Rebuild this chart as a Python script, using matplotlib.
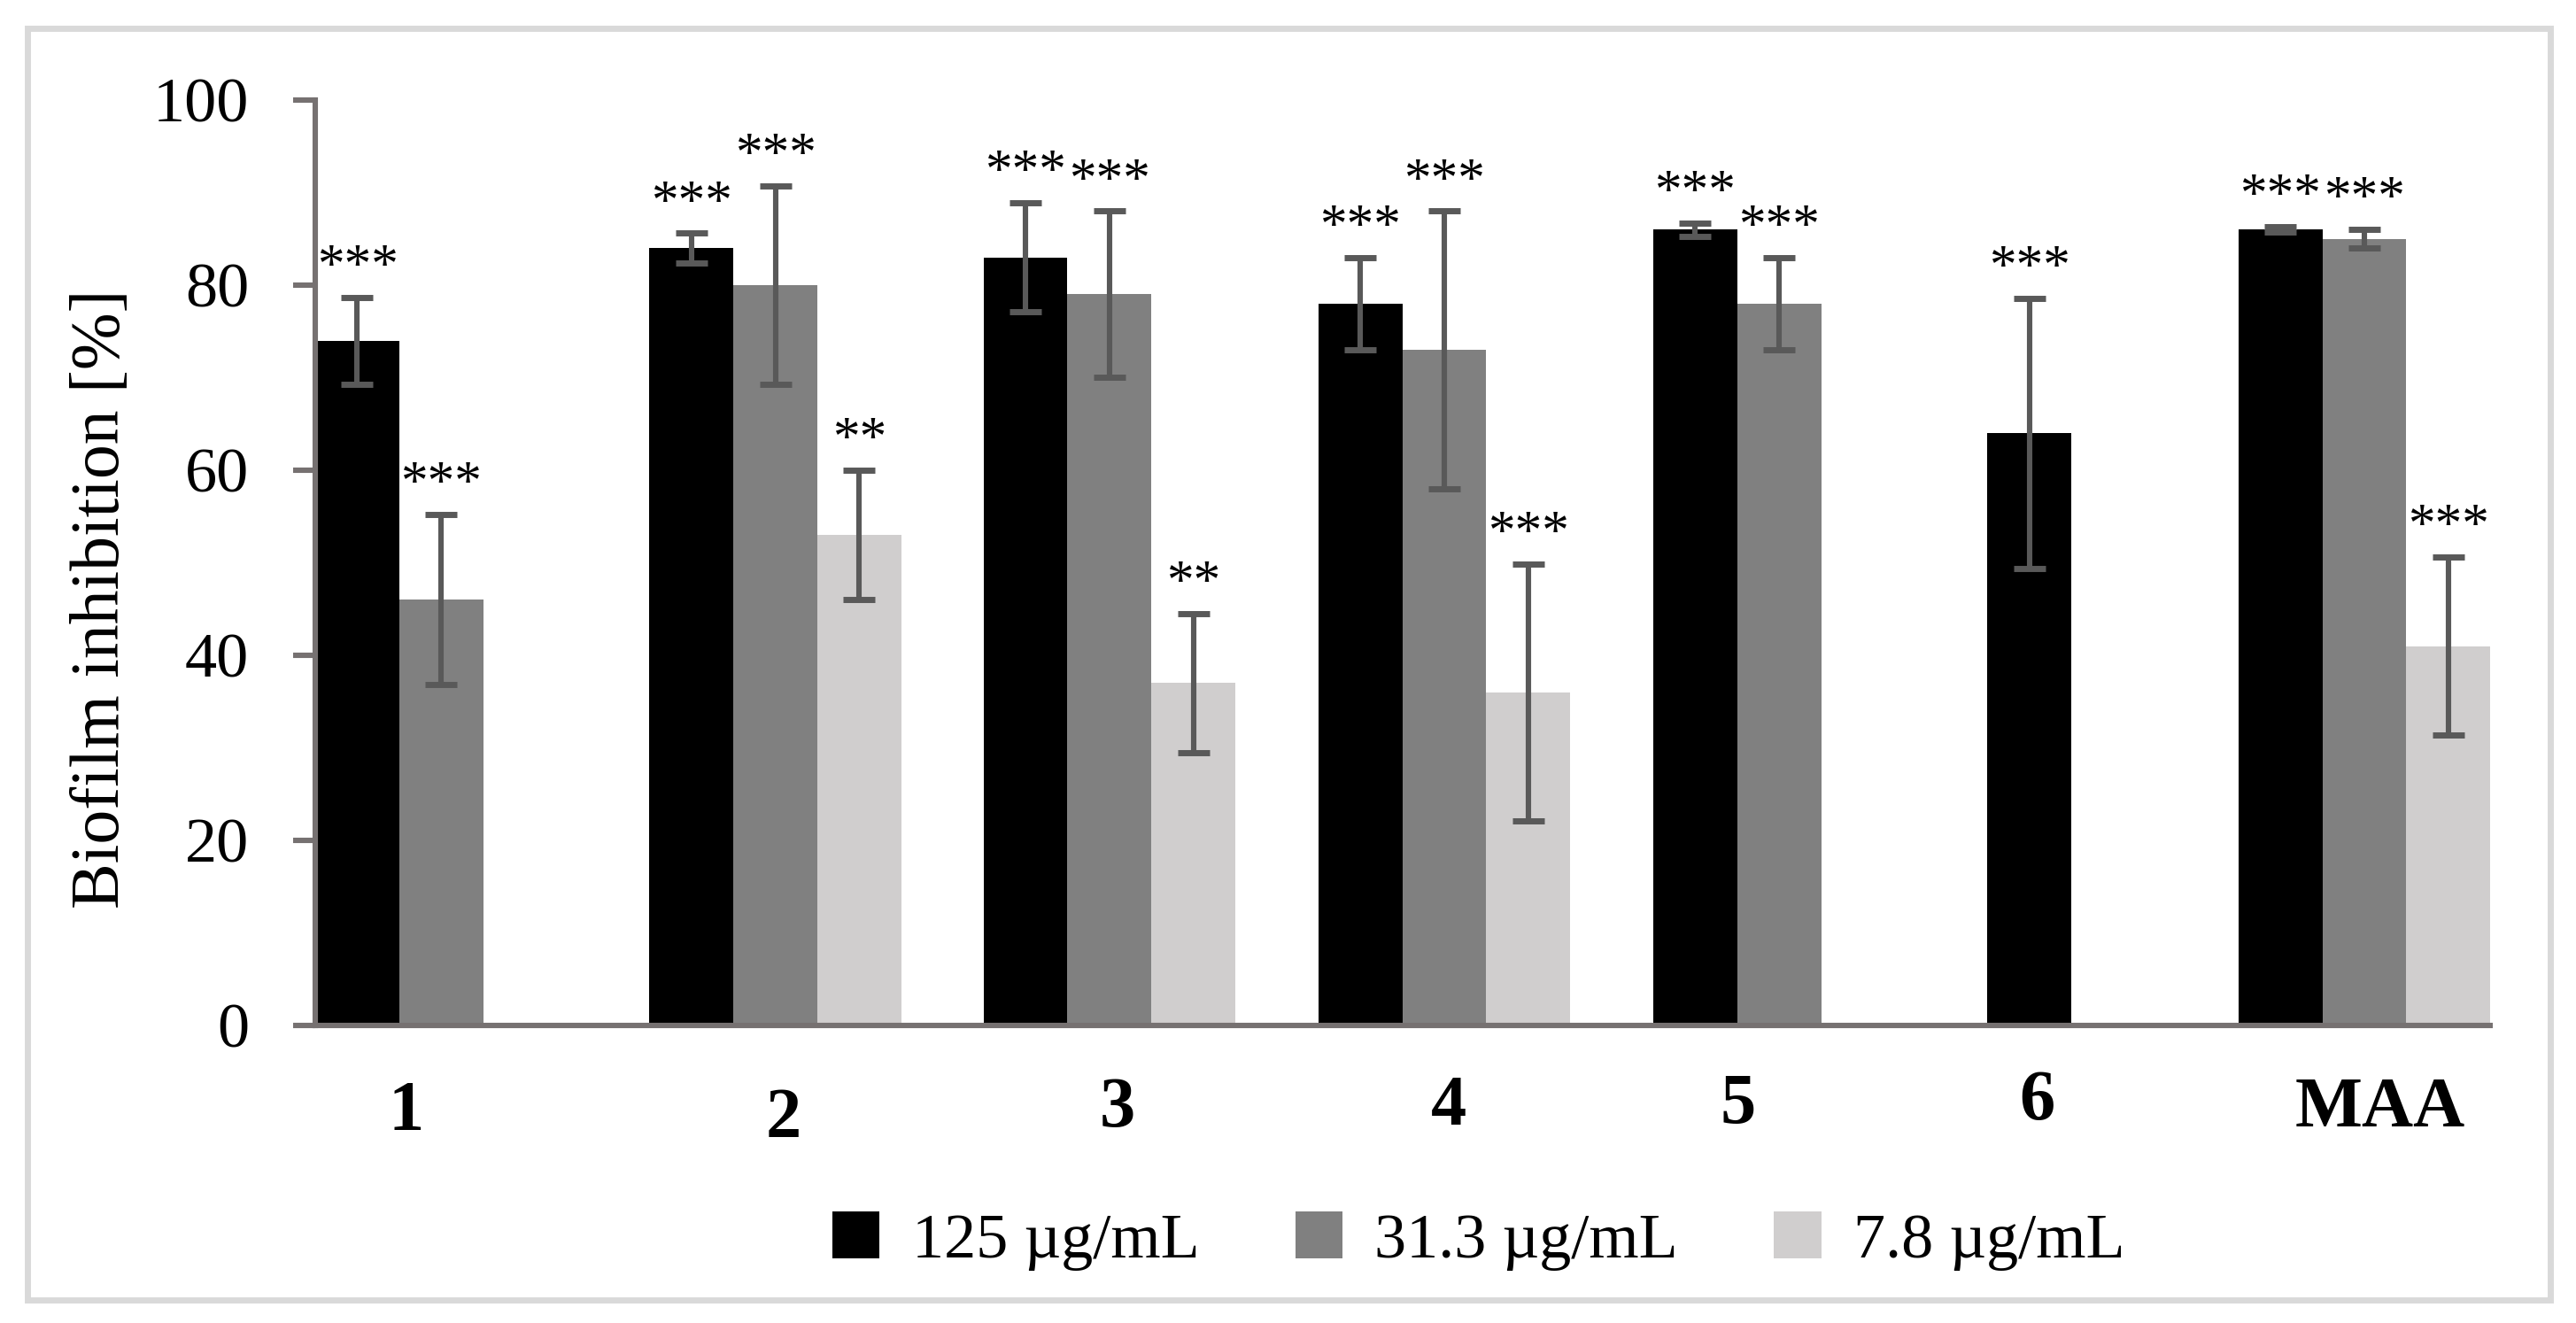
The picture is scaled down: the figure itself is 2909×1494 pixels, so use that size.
import matplotlib
matplotlib.use("Agg")
from matplotlib import pyplot as plt
from matplotlib.patches import Patch, Rectangle
import numpy as np

plt.rcParams['font.family'] = ['Liberation Serif', 'DejaVu Serif']

# данные
groups = ['1', '2', '3', '4', '5', '6', 'MAA']
series = ['125 µg/mL', '31.3 µg/mL', '7.8 µg/mL']

v125 = [74, 84, 83, 78, 86, 64, 86]
v31 = [46, 80, 79, 73, 78, np.nan, 85]
v78 = [np.nan, 53, 37, 36, np.nan, np.nan, 41]

e125 = [4.7, 1.6, 5.9, 5.0, 0.7, 14.6, 0.3]
e31 = [9.2, 10.7, 9.0, 15.0, 5.0, np.nan, 1.0]
e78 = [np.nan, 7.0, 7.5, 13.9, np.nan, np.nan, 9.6]

s125 = ['***', '***', '***', '***', '***', '***', '***']
s31 = ['***', '***', '***', '***', '***', '', '***']
s78 = ['', '**', '**', '***', '', '', '***']

values = [v125, v31, v78]
errors = [e125, e31, e78]
stars = [s125, s31, s78]
colors = ['#000000', '#808080', '#d0cece']

# положение групп (в ширинах столбца) и подписей
group_start = [0.0, 3.98, 7.96, 11.95, 15.94, 19.92, 22.91]
label_x = [1.08, 5.58, 9.55, 13.50, 16.95, 20.51, 24.60]
label_y = [-8.6, -9.4, -8.2, -8.0, -7.8, -7.5, -8.2]

fig = plt.figure(figsize=(2909 / 200, 1494 / 200), dpi=200)
ax = fig.add_axes([0.1224, 0.2249, 0.8443, 0.6995])

axis_color = '#767171'
for s in range(3):
    for g in range(len(groups)):
        val = values[s][g]
        if np.isnan(val):
            continue
        xc = group_start[g] + s + 0.5
        ax.bar(xc, val, width=1.0, color=colors[s], zorder=2)
        err = errors[s][g]
        ax.errorbar(xc, val, yerr=err, fmt='none', ecolor='#595959',
                    elinewidth=2.2, capsize=6.5, capthick=2.5, zorder=3)
        if stars[s][g]:
            # звездочки значимости над планкой ошибки
            ax.text(xc, val + err + 1.8, stars[s][g], ha='center',
                    va='baseline', fontsize=22)

ax.set_xlim(0, 25.91)
ax.set_ylim(0, 100)
ax.set_yticks([0, 20, 40, 60, 80, 100])
ax.set_xticks([])
ax.tick_params(axis='y', labelsize=26, length=9, width=2.2, color=axis_color,
               pad=18, direction='out')
for side in ['top', 'right']:
    ax.spines[side].set_visible(False)
for side in ['left', 'bottom']:
    ax.spines[side].set_color(axis_color)
    ax.spines[side].set_linewidth(2.2)

# подписи групп (жирные)
for g in range(len(groups)):
    ax.text(label_x[g], label_y[g], groups[g], ha='center', va='center_baseline',
            fontsize=29, fontweight='bold', clip_on=False)

ax.text(-0.098, 0.461, 'Biofilm inhibition [%]', transform=ax.transAxes,
        rotation=90, ha='center', va='center', fontsize=28)

handles = [Patch(facecolor=colors[i], label=series[i]) for i in range(3)]
fig.legend(handles=handles, loc='center', bbox_to_anchor=(0.574, 0.062), ncol=3,
           frameon=False, fontsize=26, handlelength=0.74, handleheight=0.74,
           handletextpad=0.5, columnspacing=1.5)

# рамка вокруг рисунка
fig.patches.append(Rectangle((0.0107, 0.0174), 0.9794, 0.9612, transform=fig.transFigure,
                             fill=False, edgecolor='#d9d9d9', linewidth=2.5))

fig.savefig('out.png', dpi=200)
